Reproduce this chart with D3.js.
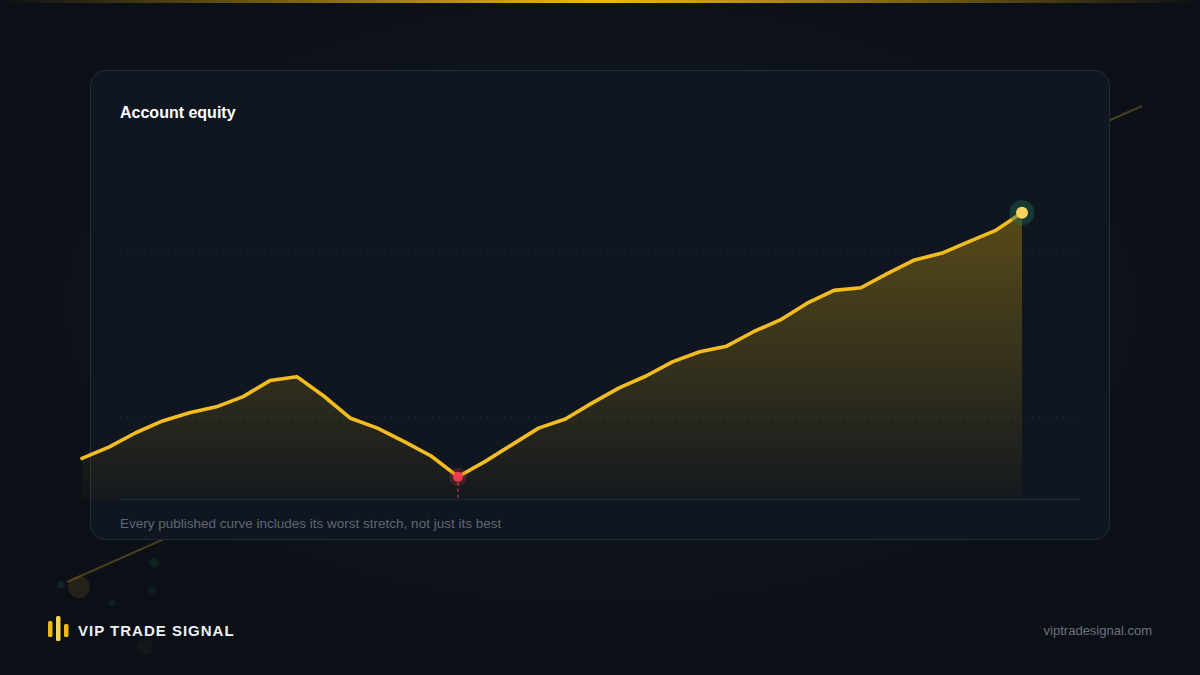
<!DOCTYPE html>
<html>
<head>
<meta charset="utf-8">
<script src="https://cdn.jsdelivr.net/npm/d3@7"></script>
<style>
  html, body { margin: 0; padding: 0; background: #0c1118; overflow: hidden; }
  svg { display: block; }
</style>
</head>
<body>
<script>
// equity curve, one value per period
var periods = d3.range(36);
var equity = [12.4, 15.8, 20.2, 23.8, 26.3, 28.1, 31.2, 36.1, 37.3, 31.4,
              24.6, 21.6, 17.5, 13.1, 6.8, 11.4, 16.5, 21.6, 24.4, 29.3,
              33.9, 37.5, 41.9, 44.9, 46.6, 51.0, 54.6, 59.7, 63.6, 64.4,
              68.8, 72.9, 74.9, 78.4, 81.8, 87.3];
var gridValues = [25, 75];

var title = "Account equity";
var caption = "Every published curve includes its worst stretch, not just its best";
var brand = "VIP TRADE SIGNAL";
var site = "viptradesignal.com";

var font = "'Liberation Sans', Arial, sans-serif";

var width = 1200,
    height = 675;

var svg = d3.select("body").append("svg")
  .attr("width", width)
  .attr("height", height);

var defs = svg.append("defs");

// background glows
var bgGlow = defs.append("radialGradient").attr("id", "bgGlow")
  .attr("cx", "50%").attr("cy", "45%").attr("r", "60%");
bgGlow.append("stop").attr("offset", "0%").attr("stop-color", "#101a1e");
bgGlow.append("stop").attr("offset", "100%").attr("stop-color", "#0b0f16");

var topBar = defs.append("linearGradient").attr("id", "topBar");
topBar.append("stop").attr("offset", "0%").attr("stop-color", "#f0b90b").attr("stop-opacity", 0);
topBar.append("stop").attr("offset", "50%").attr("stop-color", "#f0b90b").attr("stop-opacity", 1);
topBar.append("stop").attr("offset", "100%").attr("stop-color", "#f0b90b").attr("stop-opacity", 0);

var areaGrad = defs.append("linearGradient").attr("id", "areaGrad")
  .attr("x1", 0).attr("y1", 0).attr("x2", 0).attr("y2", 1);
areaGrad.append("stop").attr("offset", "0%").attr("stop-color", "#f0b90b").attr("stop-opacity", 0.32);
areaGrad.append("stop").attr("offset", "100%").attr("stop-color", "#f0b90b").attr("stop-opacity", 0.02);

svg.append("rect")
  .attr("width", width).attr("height", height)
  .attr("fill", "url(#bgGlow)");

svg.append("rect")
  .attr("x", 0).attr("y", 0)
  .attr("width", width).attr("height", 3)
  .attr("fill", "url(#topBar)");

// decorative diagonal + dots behind the card
svg.append("line")
  .attr("x1", 67).attr("y1", 582)
  .attr("x2", 1142).attr("y2", 106)
  .attr("stroke", "#c9a227").attr("stroke-opacity", 0.32)
  .attr("stroke-width", 2);

var dots = [[79, 587, 11, "#b08a2a", 0.16], [61, 585, 4, "#1f5a4a", 0.25],
            [154, 563, 5, "#1f5a4a", 0.22], [152, 590, 4, "#1f5a4a", 0.18],
            [112, 603, 4, "#1f5a4a", 0.2], [145, 647, 8, "#6b5a2a", 0.1]];
svg.selectAll("circle.deco").data(dots).enter().append("circle")
  .attr("class", "deco")
  .attr("cx", d => d[0]).attr("cy", d => d[1]).attr("r", d => d[2])
  .attr("fill", d => d[3]).attr("fill-opacity", d => d[4]);

// card
svg.append("rect")
  .attr("x", 90.5).attr("y", 70.5)
  .attr("width", 1019).attr("height", 469)
  .attr("rx", 15)
  .attr("fill", "#10161f")
  .attr("stroke", "#222c38")
  .attr("stroke-width", 1);

svg.append("text")
  .attr("x", 120).attr("y", 118)
  .attr("fill", "#ffffff")
  .attr("font-family", font)
  .attr("font-weight", 700)
  .attr("font-size", 16)
  .text(title);

// scales
var x = d3.scaleLinear()
  .domain([0, periods.length - 1])
  .range([82, 1022]);
var y = d3.scaleLinear()
  .domain([0, 100])
  .range([499, 171]);

// gridlines
svg.selectAll("line.grid").data(gridValues).enter().append("line")
  .attr("class", "grid")
  .attr("x1", 120).attr("x2", 1080)
  .attr("y1", d => y(d)).attr("y2", d => y(d))
  .attr("stroke", "#2a3340")
  .attr("stroke-opacity", 0.55)
  .attr("stroke-dasharray", "2,4");

var area = d3.area()
  .x((d, i) => x(periods[i]))
  .y0(y(0))
  .y1(d => y(d));
var line = d3.line()
  .x((d, i) => x(periods[i]))
  .y(d => y(d));

svg.append("path")
  .datum(equity)
  .attr("d", area)
  .attr("fill", "url(#areaGrad)");

// baseline
svg.append("line")
  .attr("x1", 120).attr("x2", 1080)
  .attr("y1", y(0) + 0.5).attr("y2", y(0) + 0.5)
  .attr("stroke", "#1f2935")
  .attr("stroke-width", 1.5);

svg.append("path")
  .datum(equity)
  .attr("d", line)
  .attr("fill", "none")
  .attr("stroke", "#f4bd1f")
  .attr("stroke-width", 3.6)
  .attr("stroke-linejoin", "round")
  .attr("stroke-linecap", "round");

// worst point marker
var minIdx = d3.minIndex(equity);
svg.append("line")
  .attr("x1", x(minIdx)).attr("x2", x(minIdx))
  .attr("y1", y(equity[minIdx]) + 6).attr("y2", y(0))
  .attr("stroke", "#e23a4b")
  .attr("stroke-opacity", 0.7)
  .attr("stroke-width", 1.5)
  .attr("stroke-dasharray", "3,3");
svg.append("circle")
  .attr("cx", x(minIdx)).attr("cy", y(equity[minIdx]))
  .attr("r", 9)
  .attr("fill", "#e23a4b").attr("fill-opacity", 0.22);
svg.append("circle")
  .attr("cx", x(minIdx)).attr("cy", y(equity[minIdx]))
  .attr("r", 5)
  .attr("fill", "#ef3b4e");

// latest point marker
var last = equity.length - 1;
svg.append("circle")
  .attr("cx", x(last)).attr("cy", y(equity[last]))
  .attr("r", 12.5)
  .attr("fill", "#1f6b52").attr("fill-opacity", 0.4);
svg.append("circle")
  .attr("cx", x(last)).attr("cy", y(equity[last]))
  .attr("r", 6)
  .attr("fill", "#f8d45c");

svg.append("text")
  .attr("x", 120).attr("y", 527.5)
  .attr("fill", "#5f6775")
  .attr("font-family", font)
  .attr("font-size", 13.5)
  .text(caption);

// footer brand
var bars = [[48, 621, 16, "#f0b90b"], [56, 616, 25, "#f8d45c"], [64, 624, 13, "#f0b90b"]];
svg.selectAll("rect.logo").data(bars).enter().append("rect")
  .attr("class", "logo")
  .attr("x", d => d[0]).attr("y", d => d[1])
  .attr("width", 4.5).attr("height", d => d[2])
  .attr("rx", 1.5)
  .attr("fill", d => d[3]);

svg.append("text")
  .attr("x", 78).attr("y", 635.5)
  .attr("fill", "#eef0f3")
  .attr("font-family", font)
  .attr("font-weight", 700)
  .attr("font-size", 15)
  .attr("letter-spacing", 1.0)
  .text(brand);

svg.append("text")
  .attr("x", 1152).attr("y", 635)
  .attr("text-anchor", "end")
  .attr("fill", "#6b7280")
  .attr("font-family", font)
  .attr("font-size", 13)
  .text(site);
</script>
</body>
</html>
